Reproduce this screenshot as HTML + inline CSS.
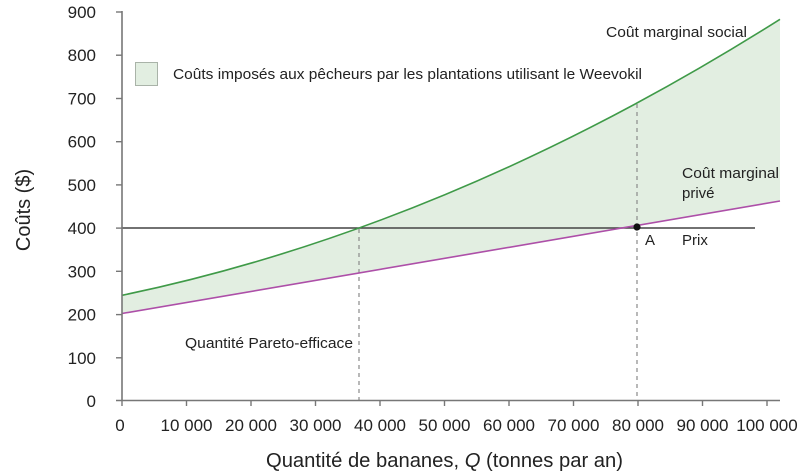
<!DOCTYPE html>
<html>
<head>
<meta charset="utf-8">
<style>
  html,body{margin:0;padding:0;background:#fff;}
  svg{display:block;}
  text{font-family:"Liberation Sans",sans-serif;fill:#222;}
</style>
</head>
<body>
<svg width="810" height="473" viewBox="0 0 810 473" xmlns="http://www.w3.org/2000/svg">
  <!-- shaded area -->
  <path d="M122,295.3 Q451,227 780,19.3 L780,201 L122,313.5 Z" fill="#e2eee1"/>

  <!-- dashed lines -->
  <line x1="359" y1="229" x2="359" y2="400" stroke="#8a8a8a" stroke-width="1.2" stroke-dasharray="4,4"/>
  <line x1="637" y1="104" x2="637" y2="400" stroke="#8a8a8a" stroke-width="1.2" stroke-dasharray="4,4"/>

  <!-- price line -->
  <line x1="122" y1="228" x2="755" y2="228" stroke="#444" stroke-width="1.6"/>

  <!-- private MC -->
  <line x1="122" y1="313.5" x2="780" y2="201" stroke="#ad4fa8" stroke-width="1.6"/>
  <!-- social MC -->
  <path d="M122,295.3 Q451,227 780,19.3" fill="none" stroke="#3f9a48" stroke-width="1.6"/>

  <!-- dot A -->
  <circle cx="637" cy="227" r="3.6" fill="#111"/>

  <!-- axes -->
  <line x1="122" y1="11" x2="122" y2="401" stroke="#777" stroke-width="1.6"/>
  <line x1="116" y1="400.5" x2="780" y2="400.5" stroke="#777" stroke-width="1.6"/>

  <!-- y ticks -->
  <g stroke="#777" stroke-width="1.4">
    <line x1="116" y1="12" x2="122" y2="12"/>
    <line x1="116" y1="55.2" x2="122" y2="55.2"/>
    <line x1="116" y1="98.5" x2="122" y2="98.5"/>
    <line x1="116" y1="141.7" x2="122" y2="141.7"/>
    <line x1="116" y1="184.9" x2="122" y2="184.9"/>
    <line x1="116" y1="228.1" x2="122" y2="228.1"/>
    <line x1="116" y1="271.3" x2="122" y2="271.3"/>
    <line x1="116" y1="314.6" x2="122" y2="314.6"/>
    <line x1="116" y1="357.8" x2="122" y2="357.8"/>
  </g>
  <g font-size="17" text-anchor="end">
    <text x="96" y="18">900</text>
    <text x="96" y="61.2">800</text>
    <text x="96" y="104.5">700</text>
    <text x="96" y="147.7">600</text>
    <text x="96" y="190.9">500</text>
    <text x="96" y="234.1">400</text>
    <text x="96" y="277.3">300</text>
    <text x="96" y="320.6">200</text>
    <text x="96" y="363.8">100</text>
    <text x="96" y="407">0</text>
  </g>

  <!-- x ticks -->
  <g stroke="#777" stroke-width="1.4">
    <line x1="122" y1="400" x2="122" y2="406"/>
    <line x1="186.5" y1="400" x2="186.5" y2="406"/>
    <line x1="251" y1="400" x2="251" y2="406"/>
    <line x1="315.5" y1="400" x2="315.5" y2="406"/>
    <line x1="380" y1="400" x2="380" y2="406"/>
    <line x1="444.5" y1="400" x2="444.5" y2="406"/>
    <line x1="509" y1="400" x2="509" y2="406"/>
    <line x1="573.5" y1="400" x2="573.5" y2="406"/>
    <line x1="638" y1="400" x2="638" y2="406"/>
    <line x1="702.5" y1="400" x2="702.5" y2="406"/>
    <line x1="767" y1="400" x2="767" y2="406"/>
  </g>
  <g font-size="17" text-anchor="middle">
    <text x="120" y="431">0</text>
    <text x="186.5" y="431">10 000</text>
    <text x="251" y="431">20 000</text>
    <text x="315.5" y="431">30 000</text>
    <text x="380" y="431">40 000</text>
    <text x="444.5" y="431">50 000</text>
    <text x="509" y="431">60 000</text>
    <text x="573.5" y="431">70 000</text>
    <text x="638" y="431">80 000</text>
    <text x="702.5" y="431">90 000</text>
    <text x="767" y="431">100 000</text>
  </g>

  <!-- axis titles -->
  <text x="266" y="467" font-size="20" textLength="357" lengthAdjust="spacingAndGlyphs">Quantité de bananes, <tspan font-style="italic">Q</tspan> (tonnes par an)</text>
  <text transform="translate(30,210) rotate(-90)" font-size="20" text-anchor="middle">Coûts ($)</text>

  <!-- legend -->
  <rect x="135.5" y="62.5" width="22" height="23" fill="#e2eee1" stroke="#a9b3a8" stroke-width="1"/>
  <text x="173" y="79" font-size="15" textLength="469" lengthAdjust="spacingAndGlyphs">Coûts imposés aux pêcheurs par les plantations utilisant le Weevokil</text>

  <!-- labels -->
  <text x="606" y="37" font-size="15" textLength="141" lengthAdjust="spacingAndGlyphs">Coût marginal social</text>
  <text x="682" y="178" font-size="15" textLength="97" lengthAdjust="spacingAndGlyphs">Coût marginal</text>
  <text x="682" y="198" font-size="15">privé</text>
  <text x="645" y="245" font-size="15">A</text>
  <text x="682" y="245" font-size="15">Prix</text>
  <text x="185" y="348" font-size="15" textLength="168" lengthAdjust="spacingAndGlyphs">Quantité Pareto-efficace</text>
</svg>
</body>
</html>
